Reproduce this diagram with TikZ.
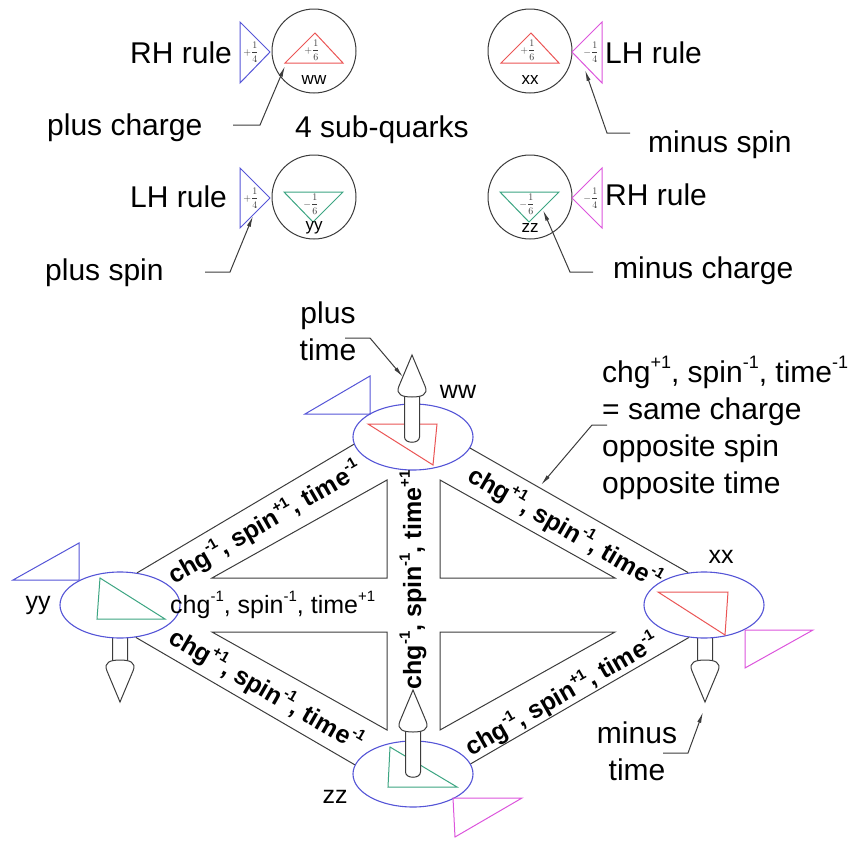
\documentclass[tikz,border=0pt]{standalone}
\usepackage{fontspec}
\setmainfont{Liberation Sans}
\usetikzlibrary{arrows.meta,shapes.geometric}
\definecolor{blueC}{RGB}{85,85,215}
\definecolor{redC}{RGB}{235,85,85}
\definecolor{greenC}{RGB}{60,165,130}
\definecolor{magC}{RGB}{220,85,220}
\definecolor{lineC}{RGB}{60,60,60}
\newcommand\spx[1]{\raisebox{0.45em}{\scalebox{0.6}{#1}}}
\begin{document}
\begin{tikzpicture}[x=1pt,y=-1pt,
 big/.style={font=\fontsize{30}{37}\selectfont,inner sep=0pt},
 mid/.style={font=\fontsize{25}{30}\selectfont,inner sep=0pt},
 midb/.style={font=\fontsize{25}{30}\selectfont\bfseries,inner sep=0pt},
 small/.style={font=\fontsize{17}{20}\selectfont,inner sep=0pt},
 tinyfr/.style={font=\fontsize{10}{11}\selectfont,inner sep=0pt,text=lineC},
 circ/.style={circle,draw=lineC,line width=1pt,minimum size=84pt,inner sep=0pt},
 qell/.style={ellipse,draw=blueC,line width=1.1pt,fill=white,minimum width=120pt,minimum height=66pt,inner sep=0pt},
 bl/.style={draw=blueC,line width=1pt},
 rd/.style={draw=redC,line width=1pt},
 gr/.style={draw=greenC,line width=1pt},
 mg/.style={draw=magC,line width=1pt},
 bandln/.style={draw=lineC,line width=1pt},
 lead/.style={draw=lineC,line width=1pt,-{Latex[length=11pt,width=4pt]}},
 tarrow/.pic={
   \draw[lineC,line width=1pt,fill=white] (-7.5,35) -- (-7.5,82) .. controls (-7.5,89) and (7.5,89) .. (7.5,82) -- (7.5,35);
   \draw[lineC,line width=1pt,fill=white] (0,0) -- (-13,31) .. controls (-17,40) and (-9,42) .. (0,42) .. controls (9,42) and (17,40) .. (13,31) -- cycle;
 }
]
\useasboundingbox (0,0) rectangle (857,846);

% ---------- top: four sub-quarks ----------
\node[circ] (cww) at (314,51) {};
\node[circ] (cxx) at (530,51) {};
\node[circ] (cyy) at (314,197) {};
\node[circ] (czz) at (530,197) {};

\draw[bl] (240,22) -- (270,52) -- (240,83) -- cycle;
\draw[bl] (240,168) -- (270,198) -- (240,228) -- cycle;
\draw[mg] (572,52) -- (602,22) -- (602,83) -- cycle;
\draw[mg] (572,198) -- (602,168) -- (602,228) -- cycle;

\draw[rd] (315,33) -- (343,63) -- (285,63) -- cycle;
\draw[rd] (531,33) -- (559,63) -- (501,63) -- cycle;
\draw[gr] (284,192) -- (343,192) -- (313,222) -- cycle;
\draw[gr] (500,192) -- (559,192) -- (529,222) -- cycle;

\node[tinyfr] (f1) at (251,52) {$\displaystyle +\frac{1}{4}$};
\node[tinyfr] (f2) at (251,198) {$\displaystyle +\frac{1}{4}$};
\node[tinyfr] (f3) at (591,52) {$\displaystyle -\frac{1}{4}$};
\node[tinyfr] (f4) at (591,198) {$\displaystyle -\frac{1}{4}$};
\node[tinyfr] (f5) at (312,50) {$\displaystyle +\frac{1}{6}$};
\node[tinyfr] (f6) at (528,50) {$\displaystyle +\frac{1}{6}$};
\node[tinyfr] (f7) at (311,204) {$\displaystyle -\frac{1}{6}$};
\node[tinyfr] (f8) at (527,204) {$\displaystyle -\frac{1}{6}$};

\node[small] (tww) at (314,80) {ww};
\node[small] (txx) at (530,80) {xx};
\node[small] (tyy) at (314,228) {yy};
\node[small] (tzz) at (530,228) {zz};

\node[big,anchor=base west] (rh1) at (130,63) {RH rule};
\node[big,anchor=base west] (lh1) at (605,63) {LH rule};
\node[big,anchor=base west] (pc) at (47,135) {plus charge};
\node[big,anchor=base west] (sq) at (295,137) {4 sub-quarks};
\node[big,anchor=base west] (ms) at (648,152) {minus spin};
\node[big,anchor=base west] (lh2) at (130,207) {LH rule};
\node[big,anchor=base west] (rh2) at (605,205) {RH rule};
\node[big,anchor=base west] (ps) at (45,280) {plus spin};
\node[big,anchor=base west] (mc) at (613,278) {minus charge};

\coordinate (pcA) at (233,125); \coordinate (pcB) at (260,125); \coordinate (pcT) at (285,66);
\draw[lead] (pcA) -- (pcB) -- (pcT);
\coordinate (msA) at (630,133); \coordinate (msB) at (607,133); \coordinate (msT) at (585,70);
\draw[lead] (msA) -- (msB) -- (msT);
\coordinate (psA) at (205,272); \coordinate (psB) at (230,272); \coordinate (psT) at (253,216);
\draw[lead] (psA) -- (psB) -- (psT);
\coordinate (mcA) at (593,272); \coordinate (mcB) at (570,272); \coordinate (mcT) at (543,210);
\draw[lead] (mcA) -- (mcB) -- (mcT);

% ---------- bottom: diamond ----------
\pic[yscale=-1] at (120,702) {tarrow};
\pic[yscale=-1] at (705,702) {tarrow};

\node[qell] (WW) at (413,437) {};
\node[qell] (YY) at (120,605) {};
\node[qell] (XX) at (704,605) {};
\node[qell] (ZZ) at (413,774) {};

\draw[rd] (368,424) -- (437,424) -- (433,465) -- cycle;
\draw[rd] (658,592) -- (728,592) -- (725,635) -- cycle;
\draw[gr] (100,578) -- (97,619) -- (165,619) -- cycle;
\draw[gr] (390,747) -- (388,787) -- (457,787) -- cycle;

\draw[bl] (305,414) -- (370,376) -- (370,414) -- cycle;
\draw[bl] (13,580) -- (79,543) -- (79,580) -- cycle;
\draw[mg] (745,630) -- (813,630) -- (745,668) -- cycle;
\draw[mg] (453,798) -- (522,798) -- (455,837) -- cycle;

\pic at (412,355) {tarrow};
\pic at (413,690) {tarrow};

\draw[bandln] (YY.62.7) -- (WW.187.6);
\draw[bandln] (WW.349.4) -- (XX.116.6);
\draw[bandln] (YY.296) -- (ZZ.171.5);
\draw[bandln] (ZZ.10.6) -- (XX.245.4);

\draw[bandln] (212,578) -- (387,480) -- (387,578) -- cycle;
\draw[bandln] (440,480) -- (440,578) -- (615,578) -- cycle;
\draw[bandln] (212,632) -- (387,632) -- (387,730) -- cycle;
\draw[bandln] (440,632) -- (615,632) -- (440,730) -- cycle;

\node[midb,rotate=30] (l1) at (265,523) {chg\spx{-1}, spin\spx{+1}, time\spx{-1}};
\node[midb,rotate=-30] (l2) at (565,528) {chg\spx{+1}, spin\spx{-1}, time\spx{-1}};
\node[midb,rotate=-30] (l3) at (266,690) {chg\spx{+1}, spin\spx{-1}, time\spx{-1}};
\node[midb,rotate=30] (l4) at (562,695) {chg\spx{-1}, spin\spx{+1}, time\spx{-1}};
\node[midb,rotate=90] (l5) at (413,580) {chg\spx{-1}, spin\spx{-1}, time\spx{+1}};
\node[mid,anchor=west] (l6) at (170,605) {chg\spx{-1}, spin\spx{-1}, time\spx{+1}};

\node[mid] (lww) at (458,392) {ww};
\node[mid] (lyy) at (38,605) {yy};
\node[mid] (lxx) at (721,557) {xx};
\node[mid] (lzz) at (335,797) {zz};

\node[big,align=left,anchor=north west] (note) at (602,356) {chg\spx{+1}, spin\spx{-1}, time\spx{-1}\\= same charge\\opposite spin\\opposite time};
\coordinate (nA) at (607,425); \coordinate (nB) at (592,425); \coordinate (nT) at (541,485);
\draw[lead] (nA) -- (nB) -- (nT);

\node[big,align=center] (pt) at (328,331) {plus\\time};
\coordinate (ptA) at (345,338); \coordinate (ptB) at (370,338); \coordinate (ptT) at (403,377);
\draw[lead] (ptA) -- (ptB) -- (ptT);

\node[big,align=center] (mt) at (637,751) {minus\\time};
\coordinate (mtA) at (663,753); \coordinate (mtB) at (688,753); \coordinate (mtT) at (703,712);
\draw[lead] (mtA) -- (mtB) -- (mtT);
\end{tikzpicture}
\end{document}
